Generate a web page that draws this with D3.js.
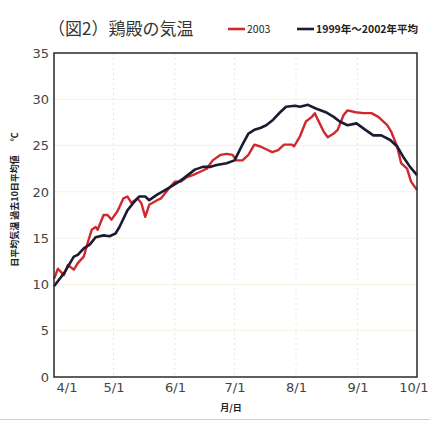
<!DOCTYPE html>
<html>
<head>
<meta charset="utf-8">
<script src="https://cdn.jsdelivr.net/npm/d3@7"></script>
<style>
  body { margin: 0; background: #fff; }
  svg { display: block; }
</style>
</head>
<body>
<svg id="chart" width="430" height="421"></svg>
<script>
// days after 4/1 and 10-day mean temperature (℃)
const redDays = [0, 2, 5, 7, 10, 12, 15, 17, 19, 21, 22, 25, 27, 29, 32, 35, 37, 39, 42, 44, 46, 48, 52, 54, 58, 61, 64, 67, 70, 74, 77, 80, 84, 87, 90, 92, 95, 98, 101, 104, 107, 110, 113, 116, 120, 121, 124, 127, 130, 131.5, 133, 136, 138, 141, 143, 146, 148, 152, 156, 160, 163.5, 168, 170, 173, 175, 178, 180, 183];
const redVals = [10.6, 11.7, 11.0, 12.1, 11.6, 12.3, 13.0, 14.5, 15.9, 16.2, 15.9, 17.5, 17.5, 17.0, 17.9, 19.3, 19.5, 18.8, 19.3, 18.8, 17.3, 18.6, 19.1, 19.3, 20.4, 21.1, 21.1, 21.6, 21.8, 22.2, 22.5, 23.4, 24.0, 24.1, 24.0, 23.4, 23.4, 24.0, 25.1, 24.9, 24.6, 24.3, 24.5, 25.1, 25.1, 24.9, 26.0, 27.6, 28.1, 28.5, 27.8, 26.5, 25.9, 26.3, 26.7, 28.3, 28.8, 28.6, 28.5, 28.5, 28.1, 27.2, 26.5, 24.9, 23.1, 22.5, 21.1, 20.2];

const avgDays = [0, 5, 10, 12, 15, 18, 21, 25, 28, 31, 33, 37, 40, 43, 46, 48, 52, 56, 60, 63, 65, 71, 75, 79, 82, 87, 91, 95, 98, 101, 104, 107, 110.5, 114, 117, 121.5, 124, 128, 132, 137, 141, 144, 148, 152.5, 157, 161, 165, 169.5, 173, 176, 179.5, 183];
const avgVals = [9.8, 11.2, 13.0, 13.2, 13.9, 14.3, 15.1, 15.3, 15.2, 15.5, 16.2, 18.0, 18.8, 19.5, 19.5, 19.1, 19.7, 20.2, 20.7, 21.1, 21.4, 22.4, 22.7, 22.7, 22.9, 23.1, 23.4, 25.1, 26.3, 26.7, 26.9, 27.2, 27.8, 28.6, 29.2, 29.3, 29.2, 29.4, 29.0, 28.6, 28.1, 27.6, 27.2, 27.4, 26.7, 26.1, 26.1, 25.6, 24.9, 23.8, 22.7, 21.8];

const yTicks = [0, 5, 10, 15, 20, 25, 30, 35];
const seriesNames = ["2003", "1999年～2002年平均"];
const seriesColors = ["#d0282c", "#1b1b33"];

const start = new Date(2003, 3, 1);
const end = new Date(2003, 9, 1);
const toDate = d => d3.timeHour.offset(start, Math.round(d * 24));

const redData = redDays.map((d, i) => ({date: toDate(d), v: redVals[i]}));
const avgData = avgDays.map((d, i) => ({date: toDate(d), v: avgVals[i]}));

const svg = d3.select("#chart");
const m = {left: 54, right: 417, top: 53, bottom: 377};

const x = d3.scaleTime().domain([start, end]).range([m.left, m.right]);
const y = d3.scaleLinear().domain([0, 35]).range([m.bottom, m.top]);

// faint grid
svg.append("g").selectAll("line")
  .data(yTicks.slice(1, -1))
  .join("line")
  .attr("x1", m.left).attr("x2", m.right)
  .attr("y1", d => y(d)).attr("y2", d => y(d))
  .attr("stroke", "#f5f2e3").attr("stroke-width", 1);

const months = d3.timeMonth.range(start, d3.timeDay.offset(end, 1));
svg.append("g").selectAll("line")
  .data(months.slice(1, -1))
  .join("line")
  .attr("x1", d => x(d)).attr("x2", d => x(d))
  .attr("y1", m.top).attr("y2", m.bottom)
  .attr("stroke", "#e6e6e6").attr("stroke-width", 1)
  .attr("stroke-dasharray", "2,3");

// lines
const line = d3.line().x(d => x(d.date)).y(d => y(d.v));
svg.append("path").datum(redData)
  .attr("d", line).attr("fill", "none")
  .attr("stroke", seriesColors[0]).attr("stroke-width", 2.4)
  .attr("stroke-linejoin", "round");
svg.append("path").datum(avgData)
  .attr("d", line).attr("fill", "none")
  .attr("stroke", seriesColors[1]).attr("stroke-width", 2.6)
  .attr("stroke-linejoin", "round");

// frame
svg.append("rect")
  .attr("x", m.left).attr("y", m.top)
  .attr("width", m.right - m.left).attr("height", m.bottom - m.top)
  .attr("fill", "none").attr("stroke", "#2a2a2a").attr("stroke-width", 1.5);

// y axis labels
const yAxis = svg.append("g")
  .attr("transform", `translate(${m.left},0)`)
  .call(d3.axisLeft(y).tickValues(yTicks).tickSize(0).tickPadding(5));
yAxis.select(".domain").remove();
yAxis.selectAll("text")
  .attr("font-family", "DejaVu Sans").attr("font-size", 13)
  .attr("fill", "#444");

// x axis labels
const xAxis = svg.append("g")
  .attr("transform", `translate(0,${m.bottom})`)
  .call(d3.axisBottom(x).tickValues(months).tickSize(0).tickPadding(6)
    .tickFormat(d3.timeFormat("%-m/%-d")));
xAxis.select(".domain").remove();
const xLabels = xAxis.selectAll("text")
  .attr("font-family", "DejaVu Sans").attr("font-size", 13)
  .attr("fill", "#444");
xLabels.filter((d, i) => i === 0)
  .attr("text-anchor", "start").attr("dx", 2);
xLabels.filter((d, i) => i === months.length - 1)
  .attr("text-anchor", "end").attr("dx", 11);

// title
svg.append("text")
  .attr("x", 48).attr("y", 35)
  .attr("font-family", "Noto Sans CJK JP").attr("font-size", 17)
  .attr("fill", "#333")
  .text("（図2）鶏殿の気温");

// legend
const legendX = [228, 297];
seriesNames.forEach((name, i) => {
  svg.append("line")
    .attr("x1", legendX[i]).attr("x2", legendX[i] + 17)
    .attr("y1", 29).attr("y2", 29)
    .attr("stroke", seriesColors[i]).attr("stroke-width", 2.6);
  svg.append("text")
    .attr("x", legendX[i] + 19).attr("y", 33)
    .attr("font-family", "Noto Sans CJK JP").attr("font-size", 10.5)
    .attr("font-weight", i === 1 ? "bold" : "normal")
    .attr("fill", "#222")
    .text(name);
});

// axis titles
svg.append("text")
  .attr("transform", "translate(18,211) rotate(-90)")
  .attr("text-anchor", "middle")
  .attr("font-family", "Noto Sans CJK JP").attr("font-size", 9)
  .attr("font-weight", "bold").attr("fill", "#222")
  .text("日平均気温 過去10日平均値");
svg.append("text")
  .attr("transform", "translate(18,137) rotate(-90)")
  .attr("text-anchor", "middle")
  .attr("font-family", "Noto Sans CJK JP").attr("font-size", 9)
  .attr("font-weight", "bold").attr("fill", "#222")
  .text("℃");

svg.append("text")
  .attr("x", 231).attr("y", 411)
  .attr("text-anchor", "middle")
  .attr("font-family", "Noto Sans CJK JP").attr("font-size", 9)
  .attr("font-weight", "bold").attr("fill", "#222")
  .text("月/日");

// scan edge
svg.append("line")
  .attr("x1", 0).attr("x2", 430).attr("y1", 419.5).attr("y2", 419.5)
  .attr("stroke", "#cfcfcf").attr("stroke-width", 1);
</script>
</body>
</html>
